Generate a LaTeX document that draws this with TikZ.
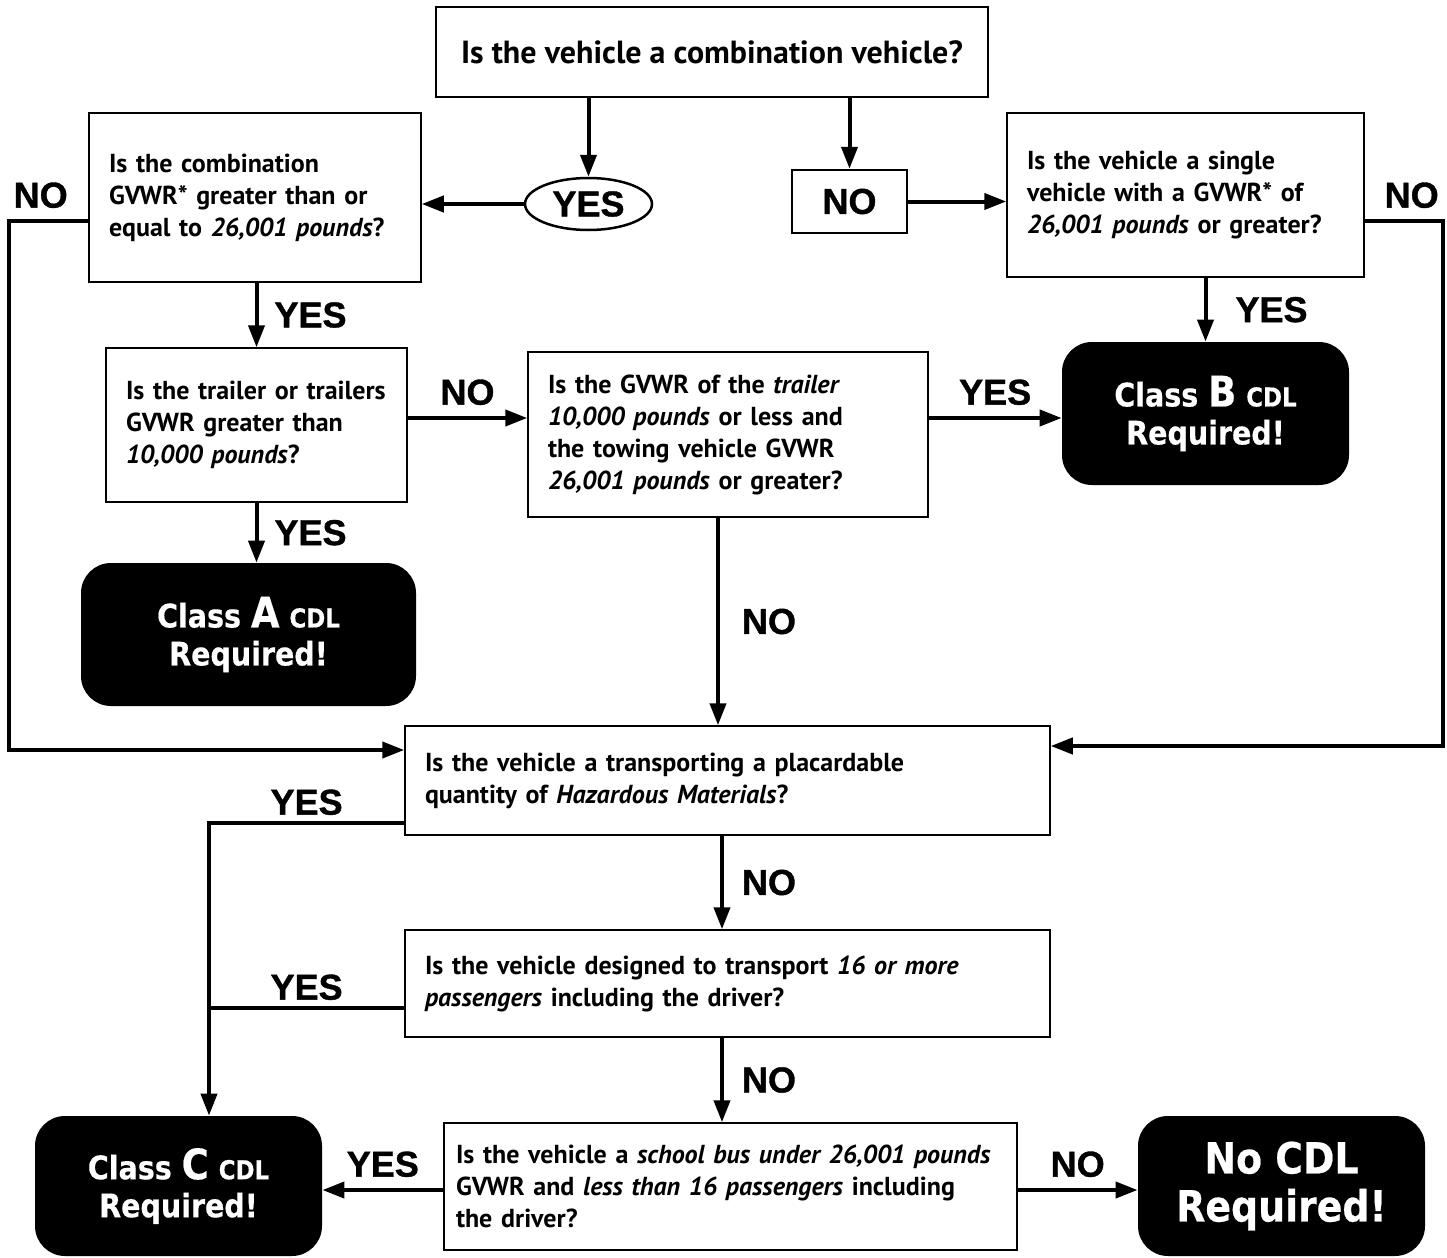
\documentclass[tikz,border=0pt]{standalone}
\usepackage{fontspec}
\setsansfont{PT Sans}
\newfontfamily\lblfont[FakeBold=1]{Liberation Sans}
\newfontfamily\cdlfont[FakeStretch=0.88,FakeBold=0.5]{DejaVu Sans}
\usetikzlibrary{arrows.meta,shapes.geometric}

\begin{document}
\begin{tikzpicture}[x=0.5pt,y=-0.5pt,>={Triangle[length=11pt,width=8pt]},
		conn/.style={line width=2pt},
		q node/.style={draw,line width=0.75pt,inner xsep=10pt,inner ysep=0pt,align=left,
			execute at begin node={\hyphenpenalty=10000},
			font=\sffamily\bfseries\fontsize{13}{16}\selectfont},
		cdl node/.style={fill=black,rounded corners=15pt,text=white,align=center,
			minimum width=143.5pt,minimum height=71.5pt,
			font=\cdlfont\bfseries\fontsize{16.2}{19}\selectfont},
		lbl/.style={inner sep=0pt,font=\lblfont\bfseries\fontsize{18}{18}\selectfont}]
	\useasboundingbox (0,0) rectangle (1447,1258);
	\node[q node,align=center,minimum width=276pt,minimum height=45pt,
		font=\sffamily\bfseries\fontsize{16}{19}\selectfont] (start) at (712,52) {Is the vehicle a combination vehicle?};
	\node[lbl,draw,ellipse,line width=1.25pt,minimum width=63.5pt,minimum height=26pt] (yes0) at (588.5,204) {YES};
	\node[lbl,draw,line width=1.25pt,minimum width=57.5pt,minimum height=31.5pt] (no0) at (849.5,201.5) {NO};
	\node[q node,text width=146pt,minimum height=84.5pt] (combo) at (255,197.5) {Is the combination\\ GVWR* greater than or\\ equal to \textit{26,001 pounds}?};
	\node[q node,text width=158.5pt,minimum height=82pt] (single) at (1185.5,195) {Is the vehicle a single\\ vehicle with a GVWR* of\\ \textit{26,001 pounds} or greater?};
	\node[q node,text width=130.5pt,minimum height=77pt] (trailer) at (256.5,425) {Is the trailer or trailers\\ GVWR greater than\\ \textit{10,000 pounds}?};
	\node[q node,text width=180pt,minimum height=82.5pt] (towing) at (728,434.5) {Is the GVWR of the \textit{trailer}\\ \textit{10,000 pounds} or less and\\ the towing vehicle GVWR\\ \textit{26,001 pounds} or greater?};
	\node[q node,text width=302.5pt,minimum height=54.5pt] (hazmat) at (727.5,780.5) {Is the vehicle a transporting a placardable\\ quantity of \textit{Hazardous Materials}?};
	\node[q node,text width=302.5pt,minimum height=53.5pt] (passengers) at (727.5,983.5) {Is the vehicle designed to transport \textit{16 or more}\\ \textit{passengers} including the driver?};
	\node[q node,inner xsep=6pt,text width=274.5pt,minimum height=63.5pt] (schoolbus) at (730.5,1186.5) {Is the vehicle a \textit{school bus under 26,001 pounds}\\ GVWR and \textit{less than 16 passengers} including\\ the driver?};
	\node[cdl node,minimum width=167.5pt] (classA) at (248.5,634.5) {Class {\fontsize{21}{19}\selectfont A} {\fontsize{13}{19}\selectfont CDL}\\Required!};
	\node[cdl node] (classB) at (1205.5,413.5) {Class {\fontsize{21}{19}\selectfont B} {\fontsize{13}{19}\selectfont CDL}\\Required!};
	\node[cdl node,minimum height=70pt] (classC) at (178.5,1186) {Class {\fontsize{21}{19}\selectfont C} {\fontsize{13}{19}\selectfont CDL}\\Required!};
	\node[cdl node,minimum height=70pt,font=\cdlfont\bfseries\fontsize{21.5}{24}\selectfont] (nocdl) at (1281.5,1186) {No CDL\\Required!};
	\coordinate (nL) at (9,750);
	\coordinate (nR) at (1443,746);
	\coordinate (cTop) at ([xshift=15.25pt]classC.north);
	\coordinate (hY) at ([yshift=-21.25pt]hazmat.west);
	\coordinate (pY) at ([yshift=-12.25pt]passengers.west);
	\coordinate (sW) at ([yshift=-1.75pt]schoolbus.west);
	\coordinate (sE) at ([yshift=-1.75pt]schoolbus.east);
	\draw[conn,->] (yes0 |- start.south) -- (yes0.north);
	\draw[conn,->] (no0 |- start.south) -- (no0.north);
	\draw[conn,->] (yes0.west) -- (yes0.west -| combo.east);
	\draw[conn,->] (no0.east) -- (no0.east -| single.west);
	\draw[conn,->] ([yshift=-11.75pt]combo.west) -| node[lbl,above=5.5pt,pos=0.3] {NO} (nL) -- (nL -| hazmat.west);
	\draw[conn,->] ([yshift=-13pt]single.east) -| node[lbl,above=5.5pt,pos=0.3] {NO} (nR) -- (nR -| hazmat.east);
	\draw[conn,->] (trailer |- combo.south) -- (trailer.north) node[lbl,right=8pt,midway] {YES};
	\draw[conn,->] (trailer.south) -- (trailer.south |- classA.north) node[lbl,right=8pt,midway] {YES};
	\draw[conn,->] ([yshift=3.5pt]trailer.east) -- ([yshift=3.5pt]trailer.east -| towing.west) node[lbl,above=5.5pt,midway] {NO};
	\draw[conn,->] ([yshift=8.25pt]towing.east) -- ([yshift=8.25pt]towing.east -| classB.west) node[lbl,above=5.5pt,midway] {YES};
	\draw[conn,->] (classB |- single.south) -- (classB.north) node[lbl,right=14pt,midway] {YES};
	\draw[conn,->] ([xshift=-5pt]towing.south) -- ([xshift=-5pt]towing.south |- hazmat.north) node[lbl,right=11pt,midway] {NO};
	\draw[conn,->] ([xshift=-2.75pt]hazmat.south) -- ([xshift=-2.75pt]hazmat.south |- passengers.north) node[lbl,right=9pt,midway] {NO};
	\draw[conn,->] ([xshift=-2.75pt]passengers.south) -- ([xshift=-2.75pt]passengers.south |- schoolbus.north) node[lbl,right=9pt,midway] {NO};
	\draw[conn,->] (hY) -| node[lbl,above=3pt,pos=0.25] {YES} (cTop);
	\draw[conn] (pY) -- (pY -| cTop) node[lbl,above=3pt,midway] {YES};
	\draw[conn,->] (sW) -- (sW -| classC.east) node[lbl,above=5.5pt,midway] {YES};
	\draw[conn,->] (sE) -- (sE -| nocdl.west) node[lbl,above=5.5pt,midway] {NO};
\end{tikzpicture}
\end{document}
